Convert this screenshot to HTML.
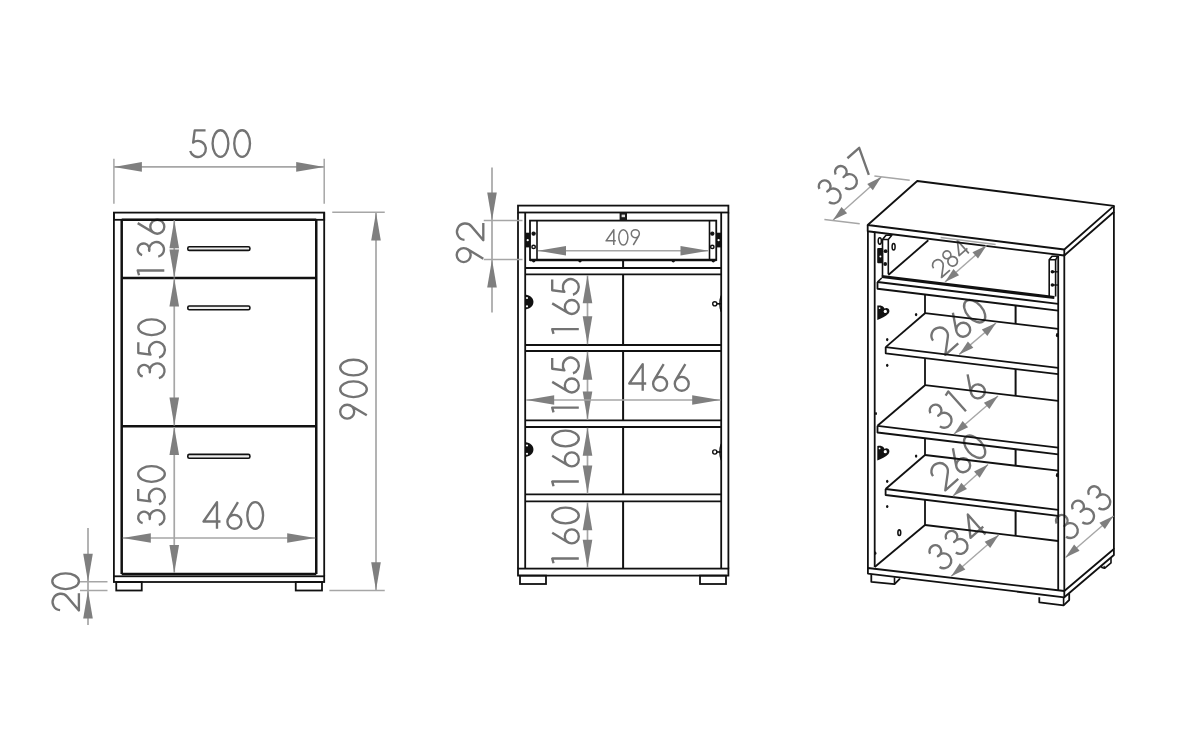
<!DOCTYPE html>
<html><head><meta charset="utf-8"><style>
html,body{margin:0;padding:0;background:#fff;}
svg{display:block;font-family:"Liberation Sans",sans-serif;}
</style></head><body>
<svg width="1200" height="750" viewBox="0 0 1200 750">
<rect width="1200" height="750" fill="#fff"/>
<g transform="translate(220.10,143.60) rotate(0) scale(26.6) translate(-1.2070,0.5000)" fill="none" stroke="#737373" stroke-width="2.35" stroke-linecap="butt" stroke-linejoin="round">
<path vector-effect="non-scaling-stroke" transform="translate(0.000,0)" d="M0.66,-1 L0.253,-1 L0.193,-0.54 A0.3,0.3 0 1 1 0.083,-0.22"/>
<path vector-effect="non-scaling-stroke" transform="translate(0.814,0)" d="M0.1110,-0.5000 a0.296,0.5 0 1 0 0.5920,0 a0.296,0.5 0 1 0 -0.5920,0"/>
<path vector-effect="non-scaling-stroke" transform="translate(1.628,0)" d="M0.1110,-0.5000 a0.296,0.5 0 1 0 0.5920,0 a0.296,0.5 0 1 0 -0.5920,0"/>
</g>
<g transform="translate(151.00,247.50) rotate(-90) scale(26.6) translate(-1.2845,0.5000)" fill="none" stroke="#737373" stroke-width="2.35" stroke-linecap="butt" stroke-linejoin="round">
<path vector-effect="non-scaling-stroke" transform="translate(0.000,0)" d="M0.24,-0.95 L0.42,-1 L0.42,0"/>
<path vector-effect="non-scaling-stroke" transform="translate(0.814,0)" d="M0.1865,-0.8332 A0.22,0.22 0 1 1 0.3431,-0.5675 A0.28,0.28 0 1 1 0.1251,-0.2266"/>
<path vector-effect="non-scaling-stroke" transform="translate(1.628,0)" d="M0.573,-1 L0.2124,-0.3982 M0.1750,-0.2630 a0.2630,0.2630 0 1 0 0.5260,0 a0.2630,0.2630 0 1 0 -0.5260,0"/>
</g>
<g transform="translate(151.60,348.75) rotate(-90) scale(26.6) translate(-1.2281,0.5000)" fill="none" stroke="#737373" stroke-width="2.35" stroke-linecap="butt" stroke-linejoin="round">
<path vector-effect="non-scaling-stroke" transform="translate(0.000,0)" d="M0.1865,-0.8332 A0.22,0.22 0 1 1 0.3431,-0.5675 A0.28,0.28 0 1 1 0.1251,-0.2266"/>
<path vector-effect="non-scaling-stroke" transform="translate(0.814,0)" d="M0.66,-1 L0.253,-1 L0.193,-0.54 A0.3,0.3 0 1 1 0.083,-0.22"/>
<path vector-effect="non-scaling-stroke" transform="translate(1.628,0)" d="M0.1110,-0.5000 a0.296,0.5 0 1 0 0.5920,0 a0.296,0.5 0 1 0 -0.5920,0"/>
</g>
<g transform="translate(151.50,495.50) rotate(-90) scale(26.6) translate(-1.2281,0.5000)" fill="none" stroke="#737373" stroke-width="2.35" stroke-linecap="butt" stroke-linejoin="round">
<path vector-effect="non-scaling-stroke" transform="translate(0.000,0)" d="M0.1865,-0.8332 A0.22,0.22 0 1 1 0.3431,-0.5675 A0.28,0.28 0 1 1 0.1251,-0.2266"/>
<path vector-effect="non-scaling-stroke" transform="translate(0.814,0)" d="M0.66,-1 L0.253,-1 L0.193,-0.54 A0.3,0.3 0 1 1 0.083,-0.22"/>
<path vector-effect="non-scaling-stroke" transform="translate(1.628,0)" d="M0.1110,-0.5000 a0.296,0.5 0 1 0 0.5920,0 a0.296,0.5 0 1 0 -0.5920,0"/>
</g>
<g transform="translate(233.30,515.50) rotate(0) scale(26.6) translate(-1.2115,0.5000)" fill="none" stroke="#737373" stroke-width="2.35" stroke-linecap="butt" stroke-linejoin="round">
<path vector-effect="non-scaling-stroke" transform="translate(0.000,0)" d="M0.598,0 L0.598,-1 L0.092,-0.274 L0.73,-0.274"/>
<path vector-effect="non-scaling-stroke" transform="translate(0.814,0)" d="M0.573,-1 L0.2124,-0.3982 M0.1750,-0.2630 a0.2630,0.2630 0 1 0 0.5260,0 a0.2630,0.2630 0 1 0 -0.5260,0"/>
<path vector-effect="non-scaling-stroke" transform="translate(1.628,0)" d="M0.1110,-0.5000 a0.296,0.5 0 1 0 0.5920,0 a0.296,0.5 0 1 0 -0.5920,0"/>
</g>
<g transform="translate(65.60,591.90) rotate(-90) scale(26.6) translate(-0.8185,0.5000)" fill="none" stroke="#737373" stroke-width="2.35" stroke-linecap="butt" stroke-linejoin="round">
<path vector-effect="non-scaling-stroke" transform="translate(0.000,0)" d="M0.1312,-0.7070 A0.31,0.31 0 1 1 0.6411,-0.4441 L0.12,0 L0.77,0"/>
<path vector-effect="non-scaling-stroke" transform="translate(0.814,0)" d="M0.1110,-0.5000 a0.296,0.5 0 1 0 0.5920,0 a0.296,0.5 0 1 0 -0.5920,0"/>
</g>
<g transform="translate(353.50,389.20) rotate(-90) scale(26.6) translate(-1.2220,0.5000)" fill="none" stroke="#737373" stroke-width="2.35" stroke-linecap="butt" stroke-linejoin="round">
<path vector-effect="non-scaling-stroke" transform="translate(0.000,0)" d="M0.241,0 L0.6016,-0.6018 M0.1130,-0.7370 a0.2630,0.2630 0 1 0 0.5260,0 a0.2630,0.2630 0 1 0 -0.5260,0"/>
<path vector-effect="non-scaling-stroke" transform="translate(0.814,0)" d="M0.1110,-0.5000 a0.296,0.5 0 1 0 0.5920,0 a0.296,0.5 0 1 0 -0.5920,0"/>
<path vector-effect="non-scaling-stroke" transform="translate(1.628,0)" d="M0.1110,-0.5000 a0.296,0.5 0 1 0 0.5920,0 a0.296,0.5 0 1 0 -0.5920,0"/>
</g>
<g transform="translate(470.00,242.50) rotate(-90) scale(26.6) translate(-0.8485,0.5000)" fill="none" stroke="#737373" stroke-width="2.35" stroke-linecap="butt" stroke-linejoin="round">
<path vector-effect="non-scaling-stroke" transform="translate(0.000,0)" d="M0.241,0 L0.6016,-0.6018 M0.1130,-0.7370 a0.2630,0.2630 0 1 0 0.5260,0 a0.2630,0.2630 0 1 0 -0.5260,0"/>
<path vector-effect="non-scaling-stroke" transform="translate(0.814,0)" d="M0.1312,-0.7070 A0.31,0.31 0 1 1 0.6411,-0.4441 L0.12,0 L0.77,0"/>
</g>
<g transform="translate(622.70,237.35) rotate(0) scale(15.3) translate(-1.1795,0.5000)" fill="none" stroke="#737373" stroke-width="1.5" stroke-linecap="butt" stroke-linejoin="round">
<path vector-effect="non-scaling-stroke" transform="translate(0.000,0)" d="M0.598,0 L0.598,-1 L0.092,-0.274 L0.73,-0.274"/>
<path vector-effect="non-scaling-stroke" transform="translate(0.814,0)" d="M0.1110,-0.5000 a0.296,0.5 0 1 0 0.5920,0 a0.296,0.5 0 1 0 -0.5920,0"/>
<path vector-effect="non-scaling-stroke" transform="translate(1.628,0)" d="M0.241,0 L0.6016,-0.6018 M0.1130,-0.7370 a0.2630,0.2630 0 1 0 0.5260,0 a0.2630,0.2630 0 1 0 -0.5260,0"/>
</g>
<g transform="translate(565.50,306.50) rotate(-90) scale(26.6) translate(-1.2695,0.5000)" fill="none" stroke="#737373" stroke-width="2.35" stroke-linecap="butt" stroke-linejoin="round">
<path vector-effect="non-scaling-stroke" transform="translate(0.000,0)" d="M0.24,-0.95 L0.42,-1 L0.42,0"/>
<path vector-effect="non-scaling-stroke" transform="translate(0.814,0)" d="M0.573,-1 L0.2124,-0.3982 M0.1750,-0.2630 a0.2630,0.2630 0 1 0 0.5260,0 a0.2630,0.2630 0 1 0 -0.5260,0"/>
<path vector-effect="non-scaling-stroke" transform="translate(1.628,0)" d="M0.66,-1 L0.253,-1 L0.193,-0.54 A0.3,0.3 0 1 1 0.083,-0.22"/>
</g>
<g transform="translate(565.50,385.00) rotate(-90) scale(26.6) translate(-1.2695,0.5000)" fill="none" stroke="#737373" stroke-width="2.35" stroke-linecap="butt" stroke-linejoin="round">
<path vector-effect="non-scaling-stroke" transform="translate(0.000,0)" d="M0.24,-0.95 L0.42,-1 L0.42,0"/>
<path vector-effect="non-scaling-stroke" transform="translate(0.814,0)" d="M0.573,-1 L0.2124,-0.3982 M0.1750,-0.2630 a0.2630,0.2630 0 1 0 0.5260,0 a0.2630,0.2630 0 1 0 -0.5260,0"/>
<path vector-effect="non-scaling-stroke" transform="translate(1.628,0)" d="M0.66,-1 L0.253,-1 L0.193,-0.54 A0.3,0.3 0 1 1 0.083,-0.22"/>
</g>
<g transform="translate(659.00,377.50) rotate(0) scale(26.6) translate(-1.2105,0.5000)" fill="none" stroke="#737373" stroke-width="2.35" stroke-linecap="butt" stroke-linejoin="round">
<path vector-effect="non-scaling-stroke" transform="translate(0.000,0)" d="M0.598,0 L0.598,-1 L0.092,-0.274 L0.73,-0.274"/>
<path vector-effect="non-scaling-stroke" transform="translate(0.814,0)" d="M0.573,-1 L0.2124,-0.3982 M0.1750,-0.2630 a0.2630,0.2630 0 1 0 0.5260,0 a0.2630,0.2630 0 1 0 -0.5260,0"/>
<path vector-effect="non-scaling-stroke" transform="translate(1.628,0)" d="M0.573,-1 L0.2124,-0.3982 M0.1750,-0.2630 a0.2630,0.2630 0 1 0 0.5260,0 a0.2630,0.2630 0 1 0 -0.5260,0"/>
</g>
<g transform="translate(565.50,458.50) rotate(-90) scale(26.6) translate(-1.2855,0.5000)" fill="none" stroke="#737373" stroke-width="2.35" stroke-linecap="butt" stroke-linejoin="round">
<path vector-effect="non-scaling-stroke" transform="translate(0.000,0)" d="M0.24,-0.95 L0.42,-1 L0.42,0"/>
<path vector-effect="non-scaling-stroke" transform="translate(0.814,0)" d="M0.573,-1 L0.2124,-0.3982 M0.1750,-0.2630 a0.2630,0.2630 0 1 0 0.5260,0 a0.2630,0.2630 0 1 0 -0.5260,0"/>
<path vector-effect="non-scaling-stroke" transform="translate(1.628,0)" d="M0.1110,-0.5000 a0.296,0.5 0 1 0 0.5920,0 a0.296,0.5 0 1 0 -0.5920,0"/>
</g>
<g transform="translate(565.50,535.50) rotate(-90) scale(26.6) translate(-1.2855,0.5000)" fill="none" stroke="#737373" stroke-width="2.35" stroke-linecap="butt" stroke-linejoin="round">
<path vector-effect="non-scaling-stroke" transform="translate(0.000,0)" d="M0.24,-0.95 L0.42,-1 L0.42,0"/>
<path vector-effect="non-scaling-stroke" transform="translate(0.814,0)" d="M0.573,-1 L0.2124,-0.3982 M0.1750,-0.2630 a0.2630,0.2630 0 1 0 0.5260,0 a0.2630,0.2630 0 1 0 -0.5260,0"/>
<path vector-effect="non-scaling-stroke" transform="translate(1.628,0)" d="M0.1110,-0.5000 a0.296,0.5 0 1 0 0.5920,0 a0.296,0.5 0 1 0 -0.5920,0"/>
</g>
<g transform="translate(846.05,177.22) rotate(-41.5) scale(26.6) translate(-1.2266,0.5000)" fill="none" stroke="#737373" stroke-width="2.35" stroke-linecap="butt" stroke-linejoin="round">
<path vector-effect="non-scaling-stroke" transform="translate(0.000,0)" d="M0.1865,-0.8332 A0.22,0.22 0 1 1 0.3431,-0.5675 A0.28,0.28 0 1 1 0.1251,-0.2266"/>
<path vector-effect="non-scaling-stroke" transform="translate(0.814,0)" d="M0.1865,-0.8332 A0.22,0.22 0 1 1 0.3431,-0.5675 A0.28,0.28 0 1 1 0.1251,-0.2266"/>
<path vector-effect="non-scaling-stroke" transform="translate(1.628,0)" d="M0.11,-1 L0.70,-1 L0.30,0"/>
</g>
<g transform="translate(950.30,258.20) rotate(-41.5) scale(17.3) translate(-1.2390,0.5000)" fill="none" stroke="#737373" stroke-width="1.7" stroke-linecap="butt" stroke-linejoin="round">
<path vector-effect="non-scaling-stroke" transform="translate(0.000,0)" d="M0.1312,-0.7070 A0.31,0.31 0 1 1 0.6411,-0.4441 L0.12,0 L0.77,0"/>
<path vector-effect="non-scaling-stroke" transform="translate(0.814,0)" d="M0.1820,-0.7750 a0.2250,0.2250 0 1 0 0.4500,0 a0.2250,0.2250 0 1 0 -0.4500,0 M0.1320,-0.2750 a0.2750,0.2750 0 1 0 0.5500,0 a0.2750,0.2750 0 1 0 -0.5500,0"/>
<path vector-effect="non-scaling-stroke" transform="translate(1.628,0)" d="M0.598,0 L0.598,-1 L0.092,-0.274 L0.73,-0.274"/>
</g>
<g transform="translate(958.50,325.50) rotate(-41.5) scale(26.6) translate(-1.2255,0.5000)" fill="none" stroke="#737373" stroke-width="2.35" stroke-linecap="butt" stroke-linejoin="round">
<path vector-effect="non-scaling-stroke" transform="translate(0.000,0)" d="M0.1312,-0.7070 A0.31,0.31 0 1 1 0.6411,-0.4441 L0.12,0 L0.77,0"/>
<path vector-effect="non-scaling-stroke" transform="translate(0.814,0)" d="M0.573,-1 L0.2124,-0.3982 M0.1750,-0.2630 a0.2630,0.2630 0 1 0 0.5260,0 a0.2630,0.2630 0 1 0 -0.5260,0"/>
<path vector-effect="non-scaling-stroke" transform="translate(1.628,0)" d="M0.1110,-0.5000 a0.296,0.5 0 1 0 0.5920,0 a0.296,0.5 0 1 0 -0.5920,0"/>
</g>
<g transform="translate(957.00,401.50) rotate(-41.5) scale(26.6) translate(-1.2271,0.5000)" fill="none" stroke="#737373" stroke-width="2.35" stroke-linecap="butt" stroke-linejoin="round">
<path vector-effect="non-scaling-stroke" transform="translate(0.000,0)" d="M0.1865,-0.8332 A0.22,0.22 0 1 1 0.3431,-0.5675 A0.28,0.28 0 1 1 0.1251,-0.2266"/>
<path vector-effect="non-scaling-stroke" transform="translate(0.814,0)" d="M0.24,-0.95 L0.42,-1 L0.42,0"/>
<path vector-effect="non-scaling-stroke" transform="translate(1.628,0)" d="M0.573,-1 L0.2124,-0.3982 M0.1750,-0.2630 a0.2630,0.2630 0 1 0 0.5260,0 a0.2630,0.2630 0 1 0 -0.5260,0"/>
</g>
<g transform="translate(958.50,461.00) rotate(-41.5) scale(26.6) translate(-1.2255,0.5000)" fill="none" stroke="#737373" stroke-width="2.35" stroke-linecap="butt" stroke-linejoin="round">
<path vector-effect="non-scaling-stroke" transform="translate(0.000,0)" d="M0.1312,-0.7070 A0.31,0.31 0 1 1 0.6411,-0.4441 L0.12,0 L0.77,0"/>
<path vector-effect="non-scaling-stroke" transform="translate(0.814,0)" d="M0.573,-1 L0.2124,-0.3982 M0.1750,-0.2630 a0.2630,0.2630 0 1 0 0.5260,0 a0.2630,0.2630 0 1 0 -0.5260,0"/>
<path vector-effect="non-scaling-stroke" transform="translate(1.628,0)" d="M0.1110,-0.5000 a0.296,0.5 0 1 0 0.5920,0 a0.296,0.5 0 1 0 -0.5920,0"/>
</g>
<g transform="translate(957.00,541.80) rotate(-41.5) scale(26.6) translate(-1.2416,0.5000)" fill="none" stroke="#737373" stroke-width="2.35" stroke-linecap="butt" stroke-linejoin="round">
<path vector-effect="non-scaling-stroke" transform="translate(0.000,0)" d="M0.1865,-0.8332 A0.22,0.22 0 1 1 0.3431,-0.5675 A0.28,0.28 0 1 1 0.1251,-0.2266"/>
<path vector-effect="non-scaling-stroke" transform="translate(0.814,0)" d="M0.1865,-0.8332 A0.22,0.22 0 1 1 0.3431,-0.5675 A0.28,0.28 0 1 1 0.1251,-0.2266"/>
<path vector-effect="non-scaling-stroke" transform="translate(1.628,0)" d="M0.598,0 L0.598,-1 L0.092,-0.274 L0.73,-0.274"/>
</g>
<g transform="translate(1083.00,512.00) rotate(-41.5) scale(26.6) translate(-1.2166,0.5000)" fill="none" stroke="#737373" stroke-width="2.35" stroke-linecap="butt" stroke-linejoin="round">
<path vector-effect="non-scaling-stroke" transform="translate(0.000,0)" d="M0.1865,-0.8332 A0.22,0.22 0 1 1 0.3431,-0.5675 A0.28,0.28 0 1 1 0.1251,-0.2266"/>
<path vector-effect="non-scaling-stroke" transform="translate(0.814,0)" d="M0.1865,-0.8332 A0.22,0.22 0 1 1 0.3431,-0.5675 A0.28,0.28 0 1 1 0.1251,-0.2266"/>
<path vector-effect="non-scaling-stroke" transform="translate(1.628,0)" d="M0.1865,-0.8332 A0.22,0.22 0 1 1 0.3431,-0.5675 A0.28,0.28 0 1 1 0.1251,-0.2266"/>
</g>
<rect x="113.90" y="212.60" width="210.30" height="7.20" fill="none" stroke="#111" stroke-width="1.8"/>
<line x1="113.90" y1="212.60" x2="113.90" y2="576.30" stroke="#111" stroke-width="1.8"/>
<line x1="324.20" y1="212.60" x2="324.20" y2="576.30" stroke="#111" stroke-width="1.8"/>
<line x1="121.70" y1="219.80" x2="121.70" y2="574.00" stroke="#111" stroke-width="2.5"/>
<line x1="316.25" y1="219.80" x2="316.25" y2="574.00" stroke="#111" stroke-width="2.5"/>
<line x1="121.70" y1="219.80" x2="316.25" y2="219.80" stroke="#111" stroke-width="2.5"/>
<line x1="121.70" y1="278.00" x2="316.25" y2="278.00" stroke="#111" stroke-width="2.5"/>
<line x1="121.70" y1="426.25" x2="316.25" y2="426.25" stroke="#111" stroke-width="2.5"/>
<line x1="121.70" y1="574.00" x2="316.25" y2="574.00" stroke="#111" stroke-width="2.5"/>
<rect x="113.90" y="576.30" width="210.30" height="5.70" fill="none" stroke="#111" stroke-width="1.8"/>
<rect x="116.25" y="582.00" width="25.50" height="8.50" fill="none" stroke="#111" stroke-width="1.8"/>
<rect x="295.75" y="582.00" width="26.25" height="8.50" fill="none" stroke="#111" stroke-width="1.8"/>
<rect x="187.8" y="246.70" width="62.1" height="3.70" rx="1.5" fill="#eee" stroke="#111" stroke-width="1.6"/>
<rect x="187.8" y="306.00" width="62.1" height="3.80" rx="1.5" fill="#eee" stroke="#111" stroke-width="1.6"/>
<rect x="187.8" y="454.40" width="62.1" height="3.80" rx="1.5" fill="#eee" stroke="#111" stroke-width="1.6"/>
<line x1="113.90" y1="166.90" x2="324.20" y2="166.90" stroke="#a6a6a6" stroke-width="1.7"/>
<polygon points="113.90,166.90 141.90,162.10 141.90,171.70" fill="#7f7f7f"/>
<polygon points="324.20,166.90 296.20,171.70 296.20,162.10" fill="#7f7f7f"/>
<line x1="113.90" y1="158.75" x2="113.90" y2="203.75" stroke="#a6a6a6" stroke-width="1.5"/>
<line x1="324.20" y1="158.75" x2="324.20" y2="203.75" stroke="#a6a6a6" stroke-width="1.5"/>
<line x1="174.25" y1="220.30" x2="174.25" y2="277.50" stroke="#a6a6a6" stroke-width="1.7"/>
<polygon points="174.25,220.30 179.05,248.30 169.45,248.30" fill="#7f7f7f"/>
<polygon points="174.25,277.50 169.45,249.50 179.05,249.50" fill="#7f7f7f"/>
<line x1="174.25" y1="278.50" x2="174.25" y2="425.50" stroke="#a6a6a6" stroke-width="1.7"/>
<polygon points="174.25,278.50 179.05,306.50 169.45,306.50" fill="#7f7f7f"/>
<polygon points="174.25,425.50 169.45,397.50 179.05,397.50" fill="#7f7f7f"/>
<line x1="174.25" y1="427.00" x2="174.25" y2="573.00" stroke="#a6a6a6" stroke-width="1.7"/>
<polygon points="174.25,427.00 179.05,455.00 169.45,455.00" fill="#7f7f7f"/>
<polygon points="174.25,573.00 169.45,545.00 179.05,545.00" fill="#7f7f7f"/>
<line x1="122.80" y1="538.00" x2="315.20" y2="538.00" stroke="#a6a6a6" stroke-width="1.7"/>
<polygon points="122.80,538.00 150.80,533.20 150.80,542.80" fill="#7f7f7f"/>
<polygon points="315.20,538.00 287.20,542.80 287.20,533.20" fill="#7f7f7f"/>
<line x1="376.00" y1="212.60" x2="376.00" y2="590.20" stroke="#a6a6a6" stroke-width="1.7"/>
<polygon points="376.00,212.60 380.80,240.60 371.20,240.60" fill="#7f7f7f"/>
<polygon points="376.00,590.20 371.20,562.20 380.80,562.20" fill="#7f7f7f"/>
<line x1="332.25" y1="212.25" x2="384.75" y2="212.25" stroke="#a6a6a6" stroke-width="1.5"/>
<line x1="329.40" y1="590.40" x2="384.75" y2="590.40" stroke="#a6a6a6" stroke-width="1.5"/>
<line x1="88.00" y1="528.00" x2="88.00" y2="625.00" stroke="#a6a6a6" stroke-width="1.7"/>
<polygon points="88.00,581.75 83.20,553.75 92.80,553.75" fill="#7f7f7f"/>
<polygon points="88.00,590.50 92.80,618.50 83.20,618.50" fill="#7f7f7f"/>
<line x1="80.00" y1="581.75" x2="107.50" y2="581.75" stroke="#a6a6a6" stroke-width="1.5"/>
<line x1="80.00" y1="590.50" x2="107.50" y2="590.50" stroke="#a6a6a6" stroke-width="1.5"/>
<rect x="518.00" y="205.60" width="210.40" height="6.90" fill="none" stroke="#111" stroke-width="1.8"/>
<line x1="518.00" y1="212.50" x2="518.00" y2="568.60" stroke="#111" stroke-width="1.8"/>
<line x1="728.40" y1="212.50" x2="728.40" y2="568.60" stroke="#111" stroke-width="1.8"/>
<line x1="525.20" y1="212.50" x2="525.20" y2="568.60" stroke="#111" stroke-width="1.8"/>
<line x1="721.20" y1="212.50" x2="721.20" y2="568.60" stroke="#111" stroke-width="1.8"/>
<rect x="518.00" y="568.60" width="210.40" height="7.00" fill="none" stroke="#111" stroke-width="1.8"/>
<rect x="520.00" y="575.60" width="26.00" height="8.40" fill="none" stroke="#111" stroke-width="1.8"/>
<rect x="700.00" y="575.60" width="26.00" height="8.40" fill="none" stroke="#111" stroke-width="1.8"/>
<rect x="530.00" y="220.60" width="186.25" height="39.40" fill="none" stroke="#111" stroke-width="1.8"/>
<line x1="530.00" y1="260.00" x2="716.25" y2="260.00" stroke="#111" stroke-width="2.6"/>
<line x1="537.00" y1="220.60" x2="537.00" y2="260.00" stroke="#111" stroke-width="1.6"/>
<line x1="709.50" y1="220.60" x2="709.50" y2="260.00" stroke="#111" stroke-width="1.6"/>
<rect x="619.6" y="212.5" width="7.4" height="8.1" fill="#1a1a1a"/>
<rect x="621.6" y="214.6" width="3.4" height="2.6" fill="#ddd"/>
<ellipse cx="533.7" cy="261.3" rx="1.6" ry="1.1" fill="#111"/>
<ellipse cx="580" cy="261.3" rx="1.6" ry="1.1" fill="#111"/>
<ellipse cx="673.3" cy="261.3" rx="1.6" ry="1.1" fill="#111"/>
<ellipse cx="713.3" cy="261.3" rx="1.6" ry="1.1" fill="#111"/>
<rect x="525.40" y="232.7" width="4.8" height="14.7" fill="#111"/>
<circle cx="527.70" cy="240.2" r="1.1" fill="#fff"/>
<circle cx="533.6" cy="233.6" r="1.6" fill="#111" stroke="#111" stroke-width="1.2"/>
<circle cx="533.6" cy="246.9" r="1.7" fill="#fff" stroke="#111" stroke-width="1.5"/>
<rect x="716.30" y="232.7" width="4.8" height="14.7" fill="#111"/>
<circle cx="718.60" cy="240.2" r="1.1" fill="#fff"/>
<circle cx="712.3" cy="233.6" r="1.6" fill="#111" stroke="#111" stroke-width="1.2"/>
<circle cx="712.3" cy="246.9" r="1.7" fill="#fff" stroke="#111" stroke-width="1.5"/>
<line x1="525.20" y1="268.00" x2="721.20" y2="268.00" stroke="#111" stroke-width="1.8"/>
<line x1="525.20" y1="274.40" x2="721.20" y2="274.40" stroke="#111" stroke-width="1.8"/>
<line x1="525.20" y1="345.00" x2="721.20" y2="345.00" stroke="#111" stroke-width="1.8"/>
<line x1="525.20" y1="351.00" x2="721.20" y2="351.00" stroke="#111" stroke-width="1.8"/>
<line x1="525.20" y1="420.40" x2="721.20" y2="420.40" stroke="#111" stroke-width="1.8"/>
<line x1="525.20" y1="427.00" x2="721.20" y2="427.00" stroke="#111" stroke-width="1.8"/>
<line x1="525.20" y1="494.40" x2="721.20" y2="494.40" stroke="#111" stroke-width="1.8"/>
<line x1="525.20" y1="501.40" x2="721.20" y2="501.40" stroke="#111" stroke-width="1.8"/>
<line x1="623.10" y1="260.00" x2="623.10" y2="268.00" stroke="#111" stroke-width="2.0"/>
<line x1="623.10" y1="274.40" x2="623.10" y2="345.00" stroke="#111" stroke-width="2.0"/>
<line x1="623.10" y1="351.00" x2="623.10" y2="420.40" stroke="#111" stroke-width="2.0"/>
<line x1="623.10" y1="427.00" x2="623.10" y2="494.40" stroke="#111" stroke-width="2.0"/>
<line x1="623.10" y1="501.40" x2="623.10" y2="568.60" stroke="#111" stroke-width="2.0"/>
<path d="M525.2,294.5 C536.2,296 536.2,308 525.2,309.5 Z" fill="#111"/>
<circle cx="527.0" cy="298" r="1.1" fill="#fff"/><circle cx="527.0" cy="306.3" r="1.1" fill="#fff"/>
<path d="M525.2,442.0 C536.2,443.5 536.2,455.5 525.2,457.0 Z" fill="#111"/>
<circle cx="527.0" cy="445.5" r="1.1" fill="#fff"/><circle cx="527.0" cy="453.8" r="1.1" fill="#fff"/>
<circle cx="714.8" cy="303.8" r="2.1" fill="none" stroke="#111" stroke-width="1.4"/>
<line x1="716.90" y1="303.80" x2="721.20" y2="303.80" stroke="#111" stroke-width="1.6"/>
<path d="M721.2,295.8 Q718.6,303.8 721.2,311.8" fill="none" stroke="#111" stroke-width="1.4"/>
<circle cx="714.8" cy="452" r="2.1" fill="none" stroke="#111" stroke-width="1.4"/>
<line x1="716.90" y1="452.00" x2="721.20" y2="452.00" stroke="#111" stroke-width="1.6"/>
<path d="M721.2,444 Q718.6,452 721.2,460" fill="none" stroke="#111" stroke-width="1.4"/>
<line x1="492.00" y1="167.50" x2="492.00" y2="312.50" stroke="#a6a6a6" stroke-width="1.7"/>
<polygon points="492.00,220.60 487.20,192.60 496.80,192.60" fill="#7f7f7f"/>
<polygon points="492.00,259.40 496.80,287.40 487.20,287.40" fill="#7f7f7f"/>
<line x1="483.75" y1="220.60" x2="522.50" y2="220.60" stroke="#a6a6a6" stroke-width="1.5"/>
<line x1="483.75" y1="259.40" x2="522.50" y2="259.40" stroke="#a6a6a6" stroke-width="1.5"/>
<line x1="538.00" y1="250.75" x2="708.50" y2="250.75" stroke="#a6a6a6" stroke-width="1.7"/>
<polygon points="538.00,250.75 566.00,245.95 566.00,255.55" fill="#7f7f7f"/>
<polygon points="708.50,250.75 680.50,255.55 680.50,245.95" fill="#7f7f7f"/>
<line x1="587.50" y1="275.20" x2="587.50" y2="344.20" stroke="#a6a6a6" stroke-width="1.7"/>
<polygon points="587.50,275.20 592.30,303.20 582.70,303.20" fill="#7f7f7f"/>
<polygon points="587.50,344.20 582.70,316.20 592.30,316.20" fill="#7f7f7f"/>
<line x1="587.50" y1="351.80" x2="587.50" y2="419.60" stroke="#a6a6a6" stroke-width="1.7"/>
<polygon points="587.50,351.80 592.30,379.80 582.70,379.80" fill="#7f7f7f"/>
<polygon points="587.50,419.60 582.70,391.60 592.30,391.60" fill="#7f7f7f"/>
<line x1="587.50" y1="427.80" x2="587.50" y2="493.60" stroke="#a6a6a6" stroke-width="1.7"/>
<polygon points="587.50,427.80 592.30,455.80 582.70,455.80" fill="#7f7f7f"/>
<polygon points="587.50,493.60 582.70,465.60 592.30,465.60" fill="#7f7f7f"/>
<line x1="587.50" y1="502.20" x2="587.50" y2="567.80" stroke="#a6a6a6" stroke-width="1.7"/>
<polygon points="587.50,502.20 592.30,530.20 582.70,530.20" fill="#7f7f7f"/>
<polygon points="587.50,567.80 582.70,539.80 592.30,539.80" fill="#7f7f7f"/>
<line x1="526.20" y1="400.00" x2="720.20" y2="400.00" stroke="#a6a6a6" stroke-width="1.7"/>
<polygon points="526.20,400.00 554.20,395.20 554.20,404.80" fill="#7f7f7f"/>
<polygon points="720.20,400.00 692.20,404.80 692.20,395.20" fill="#7f7f7f"/>
<polygon points="867.70,225.00 917.25,181.00 1113.90,205.90 1064.30,249.50" fill="none" stroke="#111" stroke-width="1.8" stroke-linejoin="round"/>
<polyline points="867.70,225.00 867.70,231.25 1064.30,255.50 1064.30,249.50" fill="none" stroke="#111" stroke-width="1.8" stroke-linejoin="round"/>
<polyline points="1064.30,255.50 1113.90,212.00 1113.90,205.90" fill="none" stroke="#111" stroke-width="1.8" stroke-linejoin="round"/>
<line x1="867.90" y1="231.25" x2="867.90" y2="569.00" stroke="#111" stroke-width="1.8"/>
<line x1="874.70" y1="231.80" x2="874.70" y2="567.00" stroke="#111" stroke-width="1.8"/>
<line x1="1058.20" y1="256.00" x2="1058.20" y2="590.50" stroke="#111" stroke-width="1.8"/>
<line x1="1064.30" y1="255.50" x2="1064.30" y2="591.00" stroke="#111" stroke-width="1.8"/>
<line x1="1113.90" y1="212.00" x2="1113.90" y2="549.00" stroke="#111" stroke-width="1.8"/>
<polyline points="867.90,568.00 1064.30,591.00 1113.90,549.00 1113.90,555.00 1064.30,597.30 867.90,573.60 867.90,568.00" fill="none" stroke="#111" stroke-width="1.8" stroke-linejoin="round"/>
<line x1="1064.30" y1="591.00" x2="1064.30" y2="597.30" stroke="#111" stroke-width="1.8"/>
<polyline points="871.30,574.30 871.30,581.80 894.50,584.20 900.00,578.60" fill="none" stroke="#111" stroke-width="1.8" stroke-linejoin="round"/>
<line x1="894.50" y1="584.20" x2="894.50" y2="577.30" stroke="#111" stroke-width="1.6"/>
<polyline points="1039.30,597.30 1039.30,602.40 1063.60,605.30 1069.20,600.00 1069.20,593.50" fill="none" stroke="#111" stroke-width="1.8" stroke-linejoin="round"/>
<line x1="1063.60" y1="605.30" x2="1063.60" y2="598.00" stroke="#111" stroke-width="1.6"/>
<polyline points="1101.40,565.60 1101.80,567.40 1104.50,568.30 1111.00,562.90 1111.00,557.40" fill="none" stroke="#111" stroke-width="1.6" stroke-linejoin="round"/>
<line x1="1104.00" y1="565.80" x2="1104.50" y2="568.30" stroke="#111" stroke-width="1.3"/>
<line x1="874.70" y1="567.00" x2="925.00" y2="525.00" stroke="#111" stroke-width="1.8"/>
<line x1="925.00" y1="525.00" x2="1058.20" y2="541.00" stroke="#111" stroke-width="1.8"/>
<polyline points="877.50,282.00 1058.20,303.86" fill="none" stroke="#111" stroke-width="1.8" stroke-linejoin="round"/>
<polyline points="877.50,282.00 877.50,288.75 1058.20,310.61" fill="none" stroke="#111" stroke-width="1.8" stroke-linejoin="round"/>
<polyline points="885.70,347.10 1058.20,367.97" fill="none" stroke="#111" stroke-width="1.8" stroke-linejoin="round"/>
<polyline points="885.70,347.10 885.70,353.30 1058.20,374.17" fill="none" stroke="#111" stroke-width="1.8" stroke-linejoin="round"/>
<line x1="885.70" y1="347.10" x2="925.00" y2="313.20" stroke="#111" stroke-width="1.8"/>
<line x1="925.00" y1="313.20" x2="1058.20" y2="328.92" stroke="#111" stroke-width="1.8"/>
<polyline points="877.50,425.80 1058.20,447.66" fill="none" stroke="#111" stroke-width="1.8" stroke-linejoin="round"/>
<polyline points="877.50,425.80 877.50,432.50 1058.20,454.36" fill="none" stroke="#111" stroke-width="1.8" stroke-linejoin="round"/>
<line x1="877.50" y1="425.80" x2="925.00" y2="385.20" stroke="#111" stroke-width="1.8"/>
<line x1="925.00" y1="385.20" x2="1058.20" y2="400.92" stroke="#111" stroke-width="1.8"/>
<polyline points="885.60,489.00 1058.20,509.88" fill="none" stroke="#111" stroke-width="1.8" stroke-linejoin="round"/>
<polyline points="885.60,489.00 885.60,495.00 1058.20,515.88" fill="none" stroke="#111" stroke-width="1.8" stroke-linejoin="round"/>
<line x1="885.60" y1="489.00" x2="925.00" y2="455.00" stroke="#111" stroke-width="1.8"/>
<line x1="925.00" y1="455.00" x2="1058.20" y2="470.72" stroke="#111" stroke-width="1.8"/>
<line x1="925.00" y1="294.50" x2="925.00" y2="313.20" stroke="#111" stroke-width="1.8"/>
<line x1="1015.60" y1="305.46" x2="1015.60" y2="323.89" stroke="#111" stroke-width="2.0"/>
<line x1="925.00" y1="358.06" x2="925.00" y2="385.20" stroke="#111" stroke-width="1.8"/>
<line x1="1015.60" y1="369.02" x2="1015.60" y2="395.89" stroke="#111" stroke-width="2.0"/>
<line x1="925.00" y1="438.25" x2="925.00" y2="455.00" stroke="#111" stroke-width="1.8"/>
<line x1="1015.60" y1="449.21" x2="1015.60" y2="465.69" stroke="#111" stroke-width="2.0"/>
<line x1="925.00" y1="499.77" x2="925.00" y2="525.00" stroke="#111" stroke-width="1.8"/>
<line x1="1015.60" y1="510.73" x2="1015.60" y2="535.69" stroke="#111" stroke-width="2.0"/>
<line x1="877.50" y1="282.00" x2="881.70" y2="278.00" stroke="#111" stroke-width="1.6"/>
<line x1="881.70" y1="276.40" x2="1054.40" y2="297.60" stroke="#111" stroke-width="3.0"/>
<polyline points="882.50,276.50 882.50,239.50 886.00,235.30 891.80,235.30 888.30,239.50 882.50,239.50" fill="none" stroke="#111" stroke-width="1.6" stroke-linejoin="round"/>
<line x1="888.30" y1="239.50" x2="888.30" y2="274.00" stroke="#111" stroke-width="1.6"/>
<line x1="888.30" y1="275.00" x2="928.30" y2="240.30" stroke="#111" stroke-width="1.8"/>
<polyline points="1049.20,296.50 1049.20,259.80 1052.00,256.20 1057.80,256.20 1055.60,259.80 1049.20,259.80" fill="none" stroke="#111" stroke-width="1.6" stroke-linejoin="round"/>
<line x1="1055.60" y1="259.80" x2="1055.60" y2="296.50" stroke="#111" stroke-width="1.6"/>
<ellipse cx="879.8" cy="241" rx="1.6" ry="3.2" fill="none" stroke="#111" stroke-width="1.5"/>
<rect x="877.2" y="248" width="6" height="15.2" rx="1" fill="#111"/>
<circle cx="880.4" cy="256.4" r="1" fill="#fff"/>
<circle cx="885.6" cy="251.2" r="1.9" fill="#111"/><circle cx="885.2" cy="264" r="1.9" fill="#111"/>
<ellipse cx="893.6" cy="246.8" rx="1.5" ry="3.3" fill="none" stroke="#111" stroke-width="1.5"/>
<circle cx="1052.4" cy="271.8" r="1.8" fill="#111"/><circle cx="1052.4" cy="285" r="1.8" fill="#111"/>
<line x1="1052.40" y1="271.80" x2="1058.00" y2="271.80" stroke="#111" stroke-width="1.4"/>
<line x1="1052.40" y1="285.00" x2="1058.00" y2="285.00" stroke="#111" stroke-width="1.4"/>
<path d="M877.3,305.6 C883,304.6 884,307.6 884.5,308.6 C888,306.6 891,310.6 888.5,313.6 C886,316.6 881,318.6 877.3,320.1 Z" fill="#111"/>
<circle cx="885.3" cy="311.40000000000003" r="1.6" fill="#fff"/><circle cx="879.6" cy="308.1" r="0.9" fill="#fff"/>
<path d="M877.3,445.9 C883,444.9 884,447.9 884.5,448.9 C888,446.9 891,450.9 888.5,453.9 C886,456.9 881,458.9 877.3,460.4 Z" fill="#111"/>
<circle cx="885.3" cy="451.7" r="1.6" fill="#fff"/><circle cx="879.6" cy="448.4" r="0.9" fill="#fff"/>
<ellipse cx="916.1" cy="314.6" rx="1.2" ry="1.6" fill="#111"/>
<ellipse cx="887.2" cy="339.6" rx="1.2" ry="1.6" fill="#111"/>
<ellipse cx="887.2" cy="365.3" rx="1.2" ry="1.6" fill="#111"/>
<ellipse cx="916.1" cy="456.1" rx="1.2" ry="1.6" fill="#111"/>
<ellipse cx="887.2" cy="481.3" rx="1.2" ry="1.6" fill="#111"/>
<ellipse cx="887.2" cy="506.5" rx="1.2" ry="1.6" fill="#111"/>
<ellipse cx="876" cy="413.5" rx="1.0" ry="1.6" fill="#111"/>
<ellipse cx="875.4" cy="553.2" rx="1.0" ry="1.6" fill="#111"/>
<ellipse cx="899.3" cy="532.7" rx="1.4" ry="2.8" fill="none" stroke="#111" stroke-width="1.6"/>
<ellipse cx="1057.2" cy="335.2" rx="1.3" ry="2.1" fill="#111"/>
<ellipse cx="1057.2" cy="475.2" rx="1.3" ry="2.1" fill="#111"/>
<line x1="833.10" y1="220.00" x2="881.25" y2="177.10" stroke="#a6a6a6" stroke-width="1.4"/>
<polygon points="833.10,220.00 841.51,206.89 847.09,213.16" fill="#7f7f7f"/>
<polygon points="881.25,177.10 872.84,190.21 867.26,183.94" fill="#7f7f7f"/>
<line x1="874.40" y1="176.00" x2="909.75" y2="180.25" stroke="#a6a6a6" stroke-width="1.5"/>
<line x1="824.40" y1="219.40" x2="859.75" y2="223.75" stroke="#a6a6a6" stroke-width="1.5"/>
<line x1="945.00" y1="282.00" x2="986.50" y2="245.50" stroke="#a6a6a6" stroke-width="1.4"/>
<polygon points="945.00,282.00 953.49,268.94 959.04,275.25" fill="#7f7f7f"/>
<polygon points="986.50,245.50 978.01,258.56 972.46,252.25" fill="#7f7f7f"/>
<line x1="940.60" y1="237.50" x2="995.60" y2="244.40" stroke="#a6a6a6" stroke-width="1.5"/>
<line x1="959.20" y1="354.40" x2="996.00" y2="323.00" stroke="#a6a6a6" stroke-width="1.4"/>
<polygon points="959.20,354.40 967.88,341.47 973.34,347.86" fill="#7f7f7f"/>
<polygon points="996.00,323.00 987.32,335.93 981.86,329.54" fill="#7f7f7f"/>
<line x1="954.00" y1="434.00" x2="998.00" y2="396.00" stroke="#a6a6a6" stroke-width="1.4"/>
<polygon points="954.00,434.00 962.61,421.02 968.10,427.37" fill="#7f7f7f"/>
<polygon points="998.00,396.00 989.39,408.98 983.90,402.63" fill="#7f7f7f"/>
<line x1="953.00" y1="496.00" x2="988.00" y2="464.50" stroke="#a6a6a6" stroke-width="1.4"/>
<polygon points="953.00,496.00 961.34,482.84 966.96,489.09" fill="#7f7f7f"/>
<polygon points="988.00,464.50 979.66,477.66 974.04,471.41" fill="#7f7f7f"/>
<line x1="951.25" y1="576.25" x2="998.75" y2="535.00" stroke="#a6a6a6" stroke-width="1.4"/>
<polygon points="951.25,576.25 959.82,563.24 965.33,569.59" fill="#7f7f7f"/>
<polygon points="998.75,535.00 990.18,548.01 984.67,541.66" fill="#7f7f7f"/>
<line x1="1065.50" y1="557.50" x2="1113.50" y2="516.00" stroke="#a6a6a6" stroke-width="1.4"/>
<polygon points="1065.50,557.50 1074.10,544.51 1079.59,550.87" fill="#7f7f7f"/>
<polygon points="1113.50,516.00 1104.90,528.99 1099.41,522.63" fill="#7f7f7f"/>
</svg></body></html>
